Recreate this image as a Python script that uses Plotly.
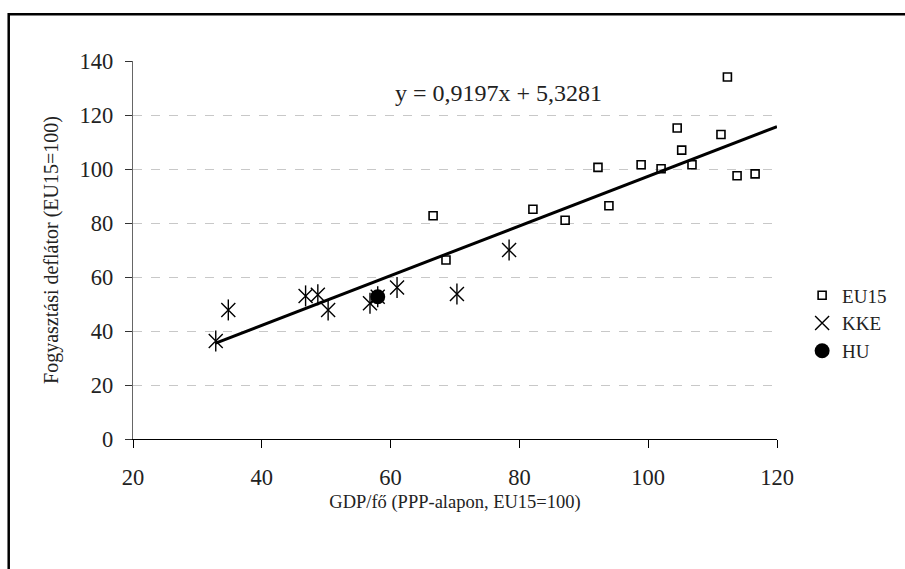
import plotly.graph_objects as go

# EU15 countries: GDP per capita (PPP, EU15=100) vs consumption deflator (EU15=100)
eu15_x = [112.3, 104.5, 111.3, 105.2, 92.2, 98.9, 102.0, 106.8, 113.8, 116.6,
          66.6, 82.1, 87.1, 93.9, 68.6]
eu15_y = [134.1, 115.2, 112.8, 107.0, 100.6, 101.6, 100.1, 101.6, 97.5, 98.2,
          82.7, 85.1, 81.0, 86.4, 66.3]

# KKE (Central and Eastern European) countries
kke_x = [32.85, 34.8, 46.8, 48.7, 50.3, 56.8, 58.0, 61.0, 70.3, 78.4]
kke_y = [36.3, 47.8, 53.0, 53.4, 47.8, 50.3, 52.7, 56.1, 53.7, 70.0]

# Hungary
hu_x = [58.0]
hu_y = [52.7]

# Linear trend (as reported on the chart)
slope = 0.9197
intercept = 5.3281
trend_x_end = 120

x_ticks = [20, 40, 60, 80, 100, 120]
y_ticks = [0, 20, 40, 60, 80, 100, 120, 140]

FONT = "Liberation Serif, Times New Roman, serif"
all_x = eu15_x + kke_x
tx = [min(all_x), trend_x_end]
ty = [slope * v + intercept for v in tx]

fig = go.Figure()

fig.add_trace(go.Scatter(
    x=tx, y=ty, mode="lines", line=dict(color="black", width=3),
    showlegend=False, hoverinfo="skip"))

fig.add_trace(go.Scatter(
    x=eu15_x, y=eu15_y, mode="markers", name="EU15",
    marker=dict(symbol="square-open", size=8, color="black",
                line=dict(width=1.6, color="black"))))

fig.add_trace(go.Scatter(
    x=kke_x, y=kke_y, mode="markers", name="KKE",
    marker=dict(symbol="x-thin-open", size=14, color="black",
                line=dict(width=1.4, color="black"))))
fig.add_trace(go.Scatter(
    x=kke_x, y=kke_y, mode="markers", name="KKE", showlegend=False,
    marker=dict(symbol="line-ns-open", size=15, color="black",
                line=dict(width=1.4, color="black"))))

fig.add_trace(go.Scatter(
    x=hu_x, y=hu_y, mode="markers", name="HU",
    marker=dict(symbol="circle", size=15, color="black",
                line=dict(width=0))))

fig.add_annotation(
    x=76.7, y=128.3, xref="x", yref="y",
    text=f"y = {str(slope).replace('.', ',')}x + {str(intercept).replace('.', ',')}",
    showarrow=False, font=dict(family=FONT, size=24, color="#222"))

# outer chart frame
fig.add_shape(type="rect", xref="paper", yref="paper",
              x0=-0.193, x1=1.4, y0=-0.5, y1=1.1234,
              line=dict(color="black", width=2.5), fillcolor="rgba(0,0,0,0)",
              layer="below")

fig.update_layout(
    width=905, height=569,
    margin=dict(l=133, r=128, t=61, b=130, autoexpand=False),
    paper_bgcolor="white", plot_bgcolor="white",
    font=dict(family=FONT, size=22, color="#222"),
    showlegend=True,
    legend=dict(x=1.039, y=0.43, xanchor="left", yanchor="top",
                font=dict(family=FONT, size=19, color="#222"),
                itemwidth=30, tracegroupgap=0, bgcolor="rgba(0,0,0,0)"),
    xaxis=dict(range=[20, 120], tickvals=x_ticks, showgrid=False, zeroline=False,
               automargin=False,
               showline=True, linecolor="black", linewidth=1.3,
               ticks="outside", ticklen=8, tickcolor="black", tickwidth=1.3,
               ticklabelstandoff=10, tickfont=dict(family=FONT, size=22.5),
               title=dict(text="GDP/fő (PPP-alapon, EU15=100)", standoff=5,
                          font=dict(family=FONT, size=18.5, color="#222"))),
    yaxis=dict(range=[0, 140], tickvals=y_ticks, showgrid=True,
               automargin=False,
               gridcolor="#c8c8c8", griddash="dash", gridwidth=1,
               zeroline=False, showline=True, linecolor="#666", linewidth=1.3,
               ticks="outside", ticklen=7, tickcolor="#333", tickwidth=1.3,
               ticklabelstandoff=7, tickfont=dict(family=FONT, size=22.5),
               title=dict(text="Fogyasztási deflátor (EU15=100)", standoff=15,
                          font=dict(family=FONT, size=20, color="#222"))),
)

fig.write_html("out.html", config={"displayModeBar": False},
               post_script="document.body.style.margin='0';document.body.style.overflow='hidden';")
